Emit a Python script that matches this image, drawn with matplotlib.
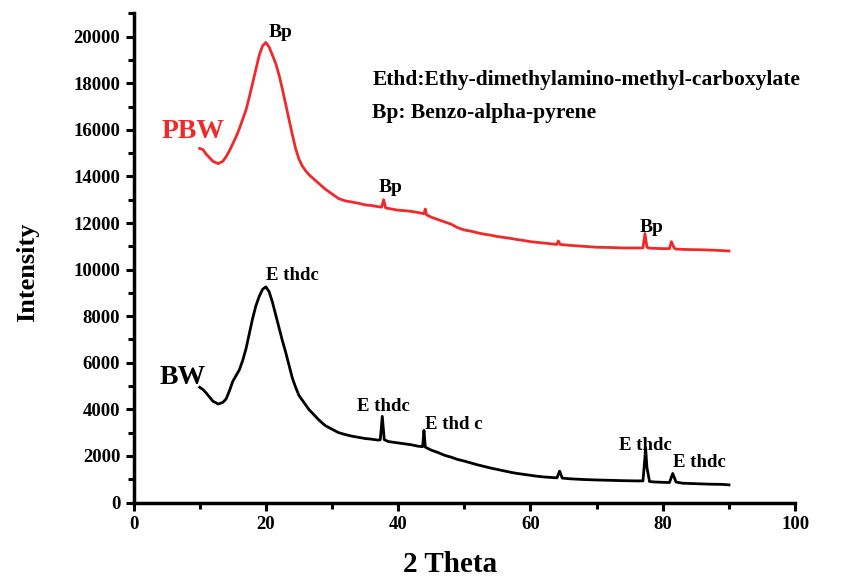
import matplotlib
matplotlib.use("Agg")
import matplotlib.pyplot as plt
from matplotlib.ticker import MultipleLocator

plt.rcParams['font.family'] = ['Liberation Serif', 'DejaVu Serif']
plt.rcParams['font.weight'] = 'bold'

# BW (black) pattern
bw_theta = [10, 10.5, 11, 12, 12.8, 13.5, 14, 14.5, 15, 15.5, 16, 16.5, 17, 17.5, 18,
            18.5, 19, 19.5, 20, 20.5, 21, 21.5, 22, 22.5, 23, 23.5, 24, 24.5, 25, 25.5,
            26, 26.5, 27, 28, 29, 30, 31, 32, 33, 34, 35, 36, 37,
            37.3, 37.6, 37.9, 38.5, 39, 40, 41, 42, 43, 43.7, 43.9, 44.1, 45, 46, 47,
            48, 49, 50, 51, 52, 53, 54, 55, 56, 57, 58, 59, 60, 61, 62, 63, 64, 64.4,
            64.8, 66, 68, 70, 72, 74, 76, 77, 77.2, 77.4, 77.6, 78, 79, 80, 81, 81.5,
            82, 83, 85, 87, 89, 90]
bw_int = [4950, 4850, 4700, 4350, 4230, 4300, 4450, 4800, 5200, 5450, 5700, 6100, 6600,
          7250, 7900, 8450, 8850, 9150, 9260, 9050, 8600, 8050, 7500, 6950, 6450, 5900,
          5350, 4950, 4600, 4400, 4200, 4000, 3850, 3550, 3300, 3150,
          3000, 2920, 2850, 2800, 2750, 2720, 2680, 2700, 3700, 2700, 2620, 2600, 2560,
          2520, 2480, 2420, 2400, 3100, 2380, 2250, 2150, 2030, 1950, 1850, 1780, 1700,
          1620, 1550, 1480, 1420, 1360, 1300, 1250, 1210, 1170, 1130, 1100, 1080, 1060,
          1350, 1050, 1020, 990, 970, 955, 940, 930, 930, 1600, 2350, 1500, 900, 880,
          870, 860, 1250, 880, 830, 810, 790, 780, 760]

# PBW (red) pattern
pbw_theta = [10, 10.5, 11, 12, 12.8, 13.5, 14, 14.5, 15, 15.5, 16, 16.5, 17, 17.5, 18,
             18.5, 19, 19.5, 20, 20.5, 21, 21.5, 22, 22.5, 23, 23.5, 24, 24.5, 25, 25.5,
             26, 26.5, 27, 28, 29, 30, 31, 32, 33, 34, 35, 36,
             37, 37.5, 37.8, 38.1, 39, 40, 41, 42, 43, 43.9, 44.1, 44.3, 45, 46, 47, 48,
             49, 50, 51, 52, 53, 54, 55, 56, 57, 58, 59, 60, 61, 62, 63, 64, 64.2, 64.5,
             66, 68, 70, 72, 74, 76, 77, 77.3, 77.6, 78, 80, 81, 81.3, 81.7, 82, 84, 86,
             88, 90]
pbw_int = [15200, 15150, 14950, 14650, 14550, 14650, 14850, 15100, 15400, 15700, 16050,
           16450, 16850, 17400, 18000, 18600, 19200, 19600, 19750, 19550, 19200, 18850,
           18350, 17750, 17100, 16450, 15800, 15200, 14750, 14450, 14250, 14080, 13950,
           13700, 13450, 13250, 13050, 12950, 12900, 12850, 12780,
           12750, 12700, 12680, 13000, 12650, 12600, 12550, 12530, 12500, 12450, 12400,
           12600, 12350, 12250, 12150, 12050, 11950, 11800, 11700, 11650, 11580, 11520,
           11480, 11420, 11380, 11340, 11290, 11250, 11200, 11170, 11140, 11110, 11080,
           11230, 11080, 11040, 11000, 10960, 10950, 10930, 10930, 10930, 11550, 10960,
           10920, 10900, 10900, 11200, 10930, 10880, 10860, 10850, 10830, 10800]

# peak labels: (text, x, y, horizontal alignment)
bw_labels = [("E thdc", 24.0, 9760, 'center'), ("E thdc", 37.8, 4110, 'center'),
             ("E thd c", 44.0, 3370, 'left'), ("E thdc", 77.3, 2470, 'center'),
             ("E thdc", 81.5, 1740, 'left')]
pbw_labels = [("Bp", 22.2, 20160), ("Bp", 38.8, 13540), ("Bp", 78.3, 11800)]

red = '#ee2a2a'

fig = plt.figure(figsize=(8.45, 5.81), dpi=100)
ax = fig.add_axes([0.158, 0.135, 0.783, 0.842])

ax.plot(bw_theta, bw_int, color='black', lw=2)
ax.plot(pbw_theta, pbw_int, color=red, lw=2)

for txt, x, y, ha in bw_labels:
    ax.text(x, y, txt, ha=ha, va='center', fontsize=13.5, fontweight='bold')
for txt, x, y in pbw_labels:
    ax.text(x, y, txt, ha='center', va='center', fontsize=14, fontweight='bold')

ax.text(9.0, 15940, "PBW", color=red, ha='center', va='center', fontsize=20, fontweight='bold')
ax.text(7.4, 5350, "BW", color='black', ha='center', va='center', fontsize=20, fontweight='bold')

ax.text(36.1, 18130, "Ethd:Ethy-dimethylamino-methyl-carboxylate", ha='left', va='center',
        fontsize=15.5, fontweight='bold')
ax.text(36.1, 16720, "Bp: Benzo-alpha-pyrene", ha='left', va='center',
        fontsize=15.5, fontweight='bold')

ax.set_xlim(0, 100)
ax.set_ylim(0, 21000)
ax.xaxis.set_major_locator(MultipleLocator(20))
ax.xaxis.set_minor_locator(MultipleLocator(10))
ax.yaxis.set_major_locator(MultipleLocator(2000))
ax.yaxis.set_minor_locator(MultipleLocator(1000))

for side in ['top', 'right']:
    ax.spines[side].set_visible(False)
for side in ['left', 'bottom']:
    ax.spines[side].set_linewidth(2.5)

ax.tick_params(which='major', direction='out', length=6, width=2.2, labelsize=13.5)
ax.tick_params(which='minor', direction='out', length=4, width=2.2)
for lab in ax.get_xticklabels() + ax.get_yticklabels():
    lab.set_fontweight('bold')

ax.set_xlabel("2 Theta", fontsize=21, fontweight='bold')
ax.set_ylabel("Intensity", fontsize=19, fontweight='bold')
ax.xaxis.set_label_coords(0.479, -0.100)
ax.yaxis.set_label_coords(-0.142, 0.471)

fig.savefig("out.png", dpi=100)
